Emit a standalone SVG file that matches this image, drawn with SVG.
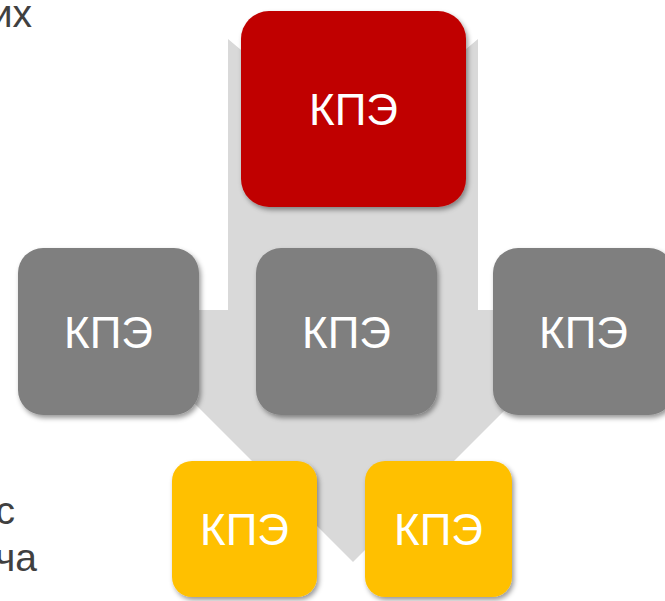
<svg xmlns="http://www.w3.org/2000/svg" width="665" height="601" viewBox="0 0 665 601">
  <defs>
    <filter id="sh" x="-10%" y="-10%" width="125%" height="130%">
      <feDropShadow dx="2" dy="3" stdDeviation="2.5" flood-color="#000" flood-opacity="0.4"/>
    </filter>
  </defs>
  <style>
    .lbl { font-family: "Liberation Sans", Arial, sans-serif; font-size: 44px; fill: #ffffff; text-anchor: middle; }
    .body { font-family: "Liberation Sans", Arial, sans-serif; font-size: 39px; fill: #404040; text-anchor: end; }
    .red { fill: #c00000; filter: url(#sh); }
    .gray { fill: #7f7f7f; filter: url(#sh); }
    .yel { fill: #ffc000; filter: url(#sh); }
  </style>
  <rect width="665" height="601" fill="#ffffff"/>
  <text class="body" x="32" y="27">их</text>
  <text class="body" x="15" y="524">с</text>
  <text class="body" x="37" y="571">ча</text>
  <g id="connectors">
    <polygon points="228,39 353,144 478,39 478,310 605,310 353,562 101,310 228,310" fill="#d9d9d9"/>
  </g>
  <g id="n-top">
    <rect class="red" x="241" y="11" width="225" height="196" rx="28"/>
    <text class="lbl" x="353.5" y="125">КПЭ</text>
  </g>
  <g id="n-left">
    <rect class="gray" x="18" y="248" width="181" height="167" rx="25"/>
    <text class="lbl" x="108.5" y="348">КПЭ</text>
  </g>
  <g id="n-mid">
    <rect class="gray" x="256" y="248" width="181" height="167" rx="25"/>
    <text class="lbl" x="346.5" y="348">КПЭ</text>
  </g>
  <g id="n-right">
    <rect class="gray" x="493" y="248" width="181" height="167" rx="25"/>
    <text class="lbl" x="583.5" y="348">КПЭ</text>
  </g>
  <g id="n-yl">
    <rect class="yel" x="172" y="461" width="145" height="136" rx="20"/>
    <text class="lbl" x="244.5" y="545">КПЭ</text>
  </g>
  <g id="n-yr">
    <rect class="yel" x="365" y="461" width="147" height="136" rx="20"/>
    <text class="lbl" x="438.5" y="545">КПЭ</text>
  </g>
</svg>
